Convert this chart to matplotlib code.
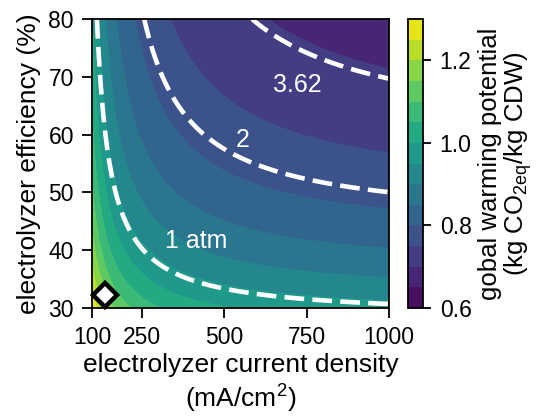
import numpy as np
import matplotlib
matplotlib.use("Agg")
import matplotlib.pyplot as plt

plt.rcParams['font.family'] = ['Liberation Sans', 'DejaVu Sans']
plt.rcParams['mathtext.fontset'] = 'custom'
plt.rcParams['mathtext.rm'] = 'Liberation Sans'
plt.rcParams['mathtext.it'] = 'Liberation Sans:italic'

# axis ranges
current_density = np.linspace(100, 1000, 400)      # mA/cm2
efficiency = np.linspace(30, 80, 400)              # %

gwp_offset = 0.469        # kg CO2eq / kg CDW
gwp_slope = 13.9          # per unit of (1/eff + k/j)
j_weight = 2.607          # relative weight of 1/j against 1/eff
p_slope = 39.7
p_offset = 0.397

gwp_levels = np.round(np.arange(0.60, 1.3001, 0.05), 2)
pressure_levels = [1.0, 2.0, 3.62]
pressure_labels = ["1 atm", "2", "3.62"]
label_pos = [(415, 41.6), (557, 59.0), (723, 68.5)]
cbar_ticks = [0.6, 0.8, 1.0, 1.2]
x_ticks = [100, 250, 500, 750, 1000]
y_ticks = [30, 40, 50, 60, 70, 80]
marker_point = (138, 32.3)

J, E = np.meshgrid(current_density, efficiency)
U = 1.0 / E + j_weight / J
GWP = gwp_offset + gwp_slope * U
PRESSURE = 1.0 / (p_slope * U - p_offset)

fig = plt.figure(figsize=(5.36, 4.16), dpi=100)
ax = fig.add_axes([92/536, 1-308/416, (389-92)/536, (308-19)/416])
cax = fig.add_axes([408/536, 1-308/416, (423-408)/536, (308-19)/416])

cf = ax.contourf(J, E, GWP, levels=gwp_levels, cmap='viridis')
cs = ax.contour(J, E, PRESSURE, levels=pressure_levels, colors='white',
                linewidths=3.3)
cs.set_dashes([(0, (4.3, 1.8))])

for lab, (px, py) in zip(pressure_labels, label_pos):
    ax.text(px, py, lab, color='white', fontsize=18, ha='center', va='center')

ax.plot([marker_point[0]], [marker_point[1]], marker='D', markersize=12.5,
        markerfacecolor='white', markeredgecolor='black', markeredgewidth=3.2,
        clip_on=False, zorder=5)

ax.set_xlim(100, 1000)
ax.set_ylim(30, 80)
ax.set_xticks(x_ticks)
ax.set_yticks(y_ticks)
ax.tick_params(labelsize=16.5, length=7, width=1.3, direction='out', pad=6)
for s in ax.spines.values():
    s.set_linewidth(1.3)
ax.set_xlabel("electrolyzer current density\n(mA/cm$^2$)", fontsize=19,
              linespacing=1.22, labelpad=3)
ax.set_ylabel("electrolyzer efficiency (%)", fontsize=19, labelpad=5)

cb = fig.colorbar(cf, cax=cax, ticks=cbar_ticks)
cb.ax.tick_params(labelsize=16.5, length=6, width=1.3, pad=6)
cb.outline.set_linewidth(1.3)
cb.set_label("gobal warming potential\n(kg CO$_{2\\mathrm{eq}}$/kg CDW)", fontsize=18.5,
             linespacing=1.0, labelpad=5)

fig.savefig("out.png", dpi=100)
